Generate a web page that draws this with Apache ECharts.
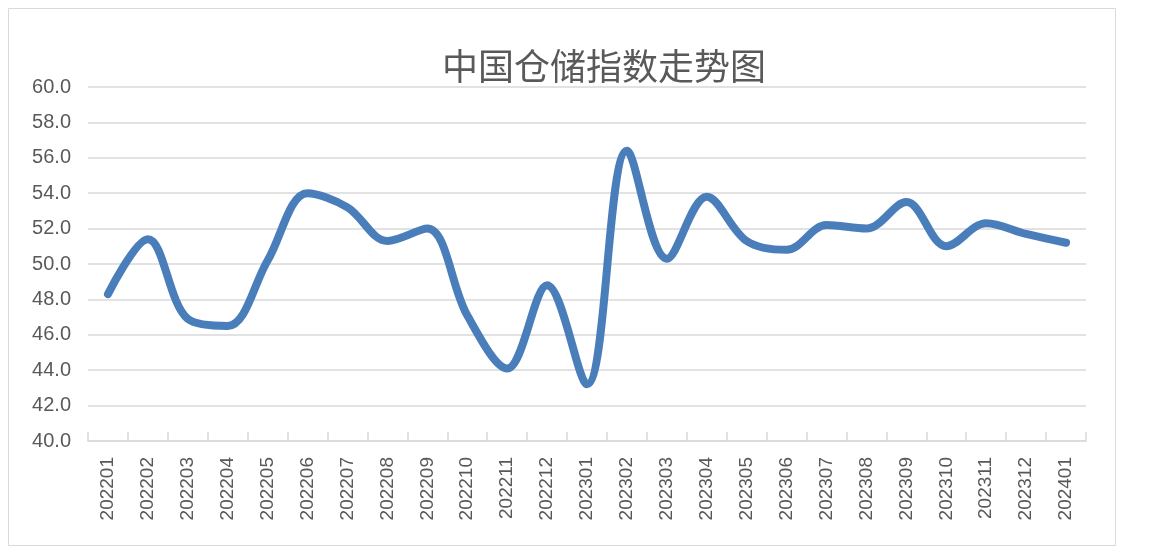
<!DOCTYPE html>
<html><head><meta charset="utf-8">
<script src="https://cdn.jsdelivr.net/npm/echarts@6/dist/echarts.min.js"></script>
<style>html,body{margin:0;padding:0;background:#fff}#c{width:1154px;height:560px}</style>
</head><body><div id="c"></div>
<script>
const categories = ['202201','202202','202203','202204','202205','202206','202207','202208','202209','202210','202211','202212','202301','202302','202303','202304','202305','202306','202307','202308','202309','202310','202311','202312','202401'];
const values = [48.3,51.4,46.9,46.5,50.2,54.0,53.2,51.3,52.0,47.1,44.1,48.8,43.2,56.4,50.3,53.8,51.3,50.8,52.2,52.0,53.5,51.0,52.3,51.7,51.2];
const titleText = '中国仓储指数走势图';

const chart = echarts.init(document.getElementById('c'));
chart.setOption({
  animation: false,
  graphic: [{type:'rect', shape:{x:8.5,y:8.5,width:1107,height:537}, style:{fill:'none', stroke:'#d9d9d9', lineWidth:1}, silent:true}],
  title: {text: titleText, left: 599, top: 40, textAlign:'center',
    textStyle:{fontFamily:'Noto Sans CJK SC', fontSize:36, fontWeight:'normal', color:'#595959', lineHeight:42}},
  grid: {left: 88, right: 68, top: 87, bottom: 119, containLabel:false},
  xAxis: {type:'category', data: categories, boundaryGap:true,
    axisLine:{lineStyle:{color:'#d9d9d9', width:1.5}},
    axisTick:{show:true, inside:true, length:9, lineStyle:{color:'#d9d9d9', width:1.5}},
    axisLabel:{rotate:90, color:'#595959', fontSize:19, fontFamily:'Liberation Sans', margin:16, interval:0}},
  yAxis: {type:'value', min:40, max:60, interval:2,
    axisLine:{show:false}, axisTick:{show:false},
    splitLine:{lineStyle:{color:'#d9d9d9', width:1.5}},
    axisLabel:{color:'#595959', fontSize:20, fontFamily:'Liberation Sans', margin:17, formatter: v => v.toFixed(1)}},
  series: [{type:'line', data: values, smooth:0.35, symbol:'none',
    lineStyle:{color:'#4a7ebb', width:8, cap:'round', join:'round'}}]
});
</script></body></html>
